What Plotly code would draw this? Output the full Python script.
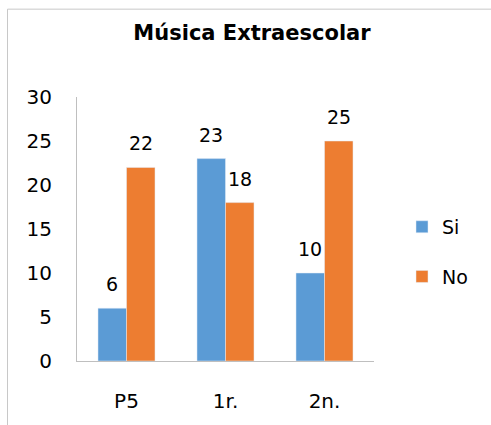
import plotly.graph_objects as go

# Chart data
categories = ["P5", "1r.", "2n."]
si_values = [6, 23, 10]
no_values = [22, 18, 25]
y_ticks = [0, 5, 10, 15, 20, 25, 30]

BLUE = "#5B9BD5"
ORANGE = "#ED7D31"
FONT = "DejaVu Sans"
BAR_GAP = 0.424

fig = go.Figure()
fig.add_trace(go.Bar(name="Si", x=categories, y=si_values, marker_color=BLUE,
                     legendgroup="si"))
fig.add_trace(go.Bar(name="No", x=categories, y=no_values, marker_color=ORANGE,
                     legendgroup="no"))

# Value labels above each bar, positioned from the bar geometry
bar_w = (1 - BAR_GAP) / 2
annotations = []
for i, (s, n) in enumerate(zip(si_values, no_values)):
    for val, off in ((s, -bar_w / 2), (n, bar_w / 2)):
        annotations.append(dict(
            x=i + off, y=val, xref="x", yref="y", text=str(val),
            showarrow=False, yanchor="middle", yshift=24,
            font=dict(family=FONT, size=19, color="#000000"),
        ))

# Plot-area pixel geometry (for the outer chart border)
L, R, T, B = 77, 117, 97, 59
W, H = 491, 425
pw, ph = W - L - R, H - T - B


def px_x(p):
    return (p - L) / pw


def px_y(p):
    return (H - B - p) / ph


fig.update_layout(
    width=W, height=H,
    margin=dict(l=L, r=R, t=T, b=B),
    paper_bgcolor="white", plot_bgcolor="white",
    barmode="group", bargap=BAR_GAP, bargroupgap=0,
    title=dict(text="<b>Música Extraescolar</b>", x=252 / W, xanchor="center",
               y=1 - 33 / H, yanchor="middle",
               font=dict(family=FONT, size=21, color="#000000")),
    font=dict(family=FONT, size=19, color="#000000"),
    xaxis=dict(showline=True, linecolor="#bfbfbf", linewidth=1, ticks="",
               showgrid=False, zeroline=False, ticklabelstandoff=22,
               tickfont=dict(family=FONT, size=20, color="#000000")),
    yaxis=dict(range=[0, 30], tickvals=y_ticks, showline=True, linecolor="#bfbfbf",
               linewidth=1, ticks="", showgrid=False, zeroline=False,
               ticklabelstandoff=20,
               tickfont=dict(family=FONT, size=20, color="#000000")),
    legend=dict(x=px_x(402), xanchor="left", y=px_y(210), yanchor="top",
                traceorder="grouped", tracegroupgap=22,
                font=dict(family=FONT, size=19, color="#000000"),
                bgcolor="rgba(0,0,0,0)"),
    annotations=annotations,
    shapes=[
        dict(type="line", xref="paper", yref="paper",
             x0=px_x(7.5), x1=px_x(W + 10), y0=px_y(7.5), y1=px_y(7.5),
             line=dict(color="#c8c8c8", width=1), layer="above"),
        dict(type="line", xref="paper", yref="paper",
             x0=px_x(7.5), x1=px_x(7.5), y0=px_y(7.5), y1=px_y(H + 10),
             line=dict(color="#c8c8c8", width=1), layer="above"),
    ],
)

fig.write_html("out.html")
